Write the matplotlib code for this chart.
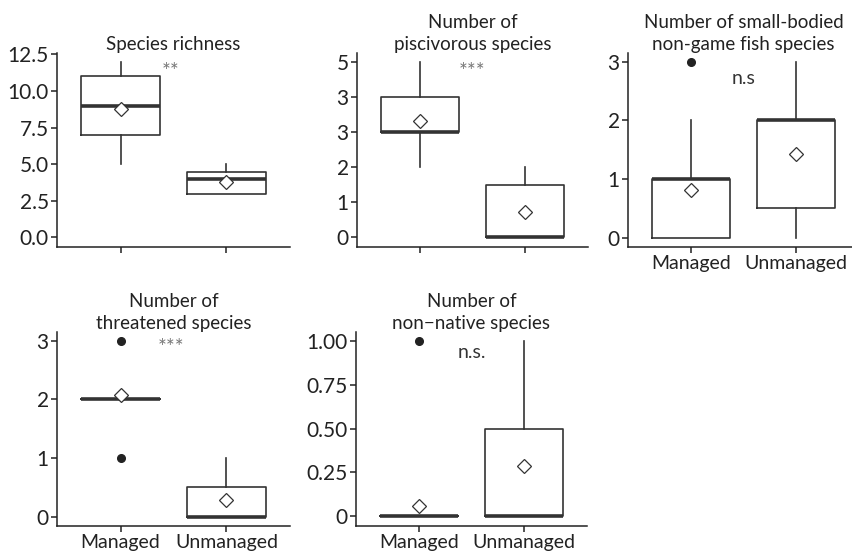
import matplotlib
matplotlib.use("Agg")
import matplotlib.pyplot as plt

plt.rcParams['font.family'] = ['Lato', 'DejaVu Sans']

groups = ['Managed', 'Unmanaged']

# per panel: [managed, unmanaged]
titles = ['Species richness',
          'Number of\npiscivorous species',
          'Number of small-bodied\nnon-game fish species',
          'Number of\nthreatened species',
          'Number of\nnon\u2212native species']
whislo = [[5, 3], [2, 0], [0, 0], [2, 0], [0, 0]]
q1 = [[7, 3], [3, 0], [0, 0.5], [2, 0], [0, 0]]
med = [[9, 4], [3, 0], [1, 2], [2, 0], [0, 0]]
q3 = [[11, 4.5], [4, 1.5], [1, 2], [2, 0.5], [0, 0.5]]
whishi = [[12, 5], [5, 2], [2, 3], [2, 1], [0, 1]]
means = [[8.8, 3.8], [3.31, 0.71], [0.81, 1.43], [2.07, 0.28], [0.06, 0.286]]
fliers = [[[], []], [[], []], [[3], []], [[1, 3], []], [[1], []]]

signif = ['**', '***', 'n.s', '***', 'n.s.']
signif_xy = [(1.47, 11.3), (1.5, 4.7), (1.5, 2.71), (1.48, 2.88), (1.5, 0.935)]

yticks = [[0, 2.5, 5, 7.5, 10, 12.5], [0, 1, 2, 3, 4, 5], [0, 1, 2, 3],
          [0, 1, 2, 3], [0, 0.25, 0.5, 0.75, 1]]
yticklabels = [['0.0', '2.5', '5.0', '7.5', '10.0', '12.5'],
               ['0', '1', '2', '3', '3', '5'],
               ['0', '1', '2', '3'], ['0', '1', '2', '3'],
               ['0', '0.25', '0.50', '0.75', '1.00']]
ylims = [(-0.65, 12.6), (-0.28, 5.25), (-0.16, 3.15), (-0.16, 3.15), (-0.055, 1.05)]

W, H = 853, 552
fig = plt.figure(figsize=(W / 100, H / 100), dpi=100)

# axes boxes in pixels: left, top, right, bottom
boxes = [(57, 53, 290, 247), (357, 53, 588, 247), (628, 53, 859, 247),
         (57, 332, 290, 526), (356, 332, 587, 526)]

dark = '#333333'
for i in range(5):
    l, t, r, b = boxes[i]
    ax = fig.add_axes([l / W, 1 - b / H, (r - l) / W, (b - t) / H])
    stats = []
    for j in range(2):
        stats.append(dict(whislo=whislo[i][j], q1=q1[i][j], med=med[i][j],
                          q3=q3[i][j], whishi=whishi[i][j], mean=means[i][j],
                          fliers=fliers[i][j]))
    ax.bxp(stats, positions=[1, 2], widths=0.75, showmeans=True,
           showcaps=False,
           boxprops=dict(color=dark, linewidth=1.2),
           whiskerprops=dict(color=dark, linewidth=1.2),
           medianprops=dict(color=dark, linewidth=2.6, solid_capstyle='butt'),
           meanprops=dict(marker='D', markerfacecolor='white',
                          markeredgecolor=dark, markersize=7.5,
                          markeredgewidth=0.9),
           flierprops=dict(marker='o', markerfacecolor='#222222',
                           markeredgecolor='#222222', markersize=5.5))
    ax.set_xlim(0.4, 2.6)
    ax.set_ylim(*ylims[i])
    ax.set_yticks(yticks[i])
    ax.set_yticklabels(yticklabels[i])
    ax.set_xticks([1, 2])
    if i in (2, 3, 4):
        ax.set_xticklabels(groups)
    else:
        ax.set_xticklabels(['', ''])
    for s in ['top', 'right']:
        ax.spines[s].set_visible(False)
    for s in ['left', 'bottom']:
        ax.spines[s].set_color('#222222')
        ax.spines[s].set_linewidth(1.1)
    ax.tick_params(colors='#222222', length=4, width=1.1, pad=2)
    ax.tick_params(axis='y', labelsize=15)
    ax.tick_params(axis='x', labelsize=14)
    ax.set_title(titles[i], fontsize=13.5, color='#222222', pad=2.5,
                 linespacing=1.3)
    sx, sy = signif_xy[i]
    if signif[i].startswith('n'):
        ax.text(sx, sy, signif[i], ha='center', va='center', fontsize=14,
                color='#333333')
    else:
        ax.text(sx, sy, signif[i], ha='center', va='center', fontsize=15,
                color='#777777')

fig.savefig('out.png', dpi=100)
